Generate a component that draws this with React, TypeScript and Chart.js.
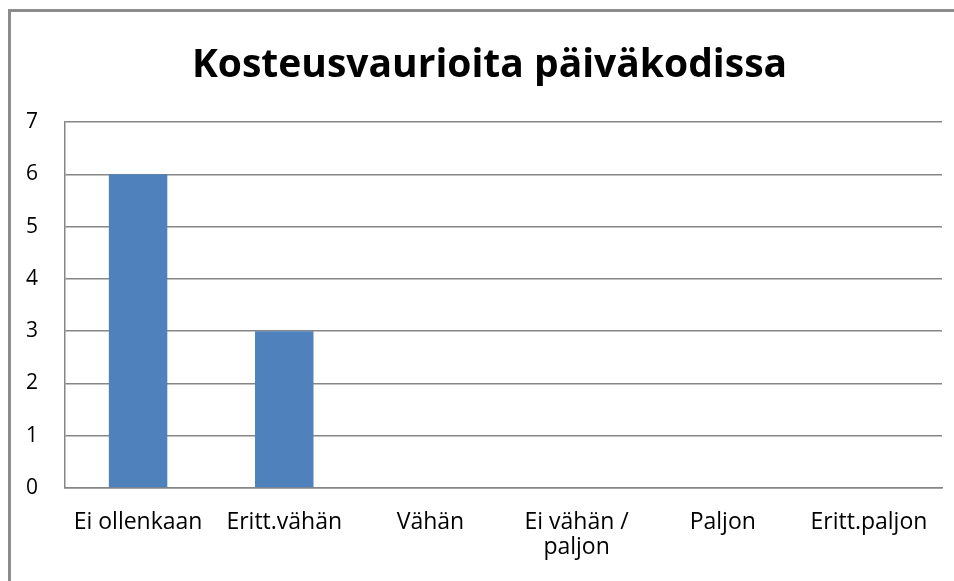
import React, { useEffect, useRef } from "react";
import { Chart, registerables } from "chart.js";

Chart.register(...registerables);

const categories: (string | string[])[] = [
  "Ei ollenkaan",
  "Eritt.vähän",
  "Vähän",
  ["Ei vähän /", "paljon"],
  "Paljon",
  "Eritt.paljon",
];
const values: number[] = [6, 3, 0, 0, 0, 0];
const yTicks: number[] = [0, 1, 2, 3, 4, 5, 6, 7];
const titleText = "Kosteusvaurioita päiväkodissa";

const titlePlugin = {
  id: "centeredTitle",
  afterDraw(chart: any) {
    const ctx = chart.ctx;
    ctx.save();
    ctx.font = "bold 39px 'Open Sans'";
    ctx.fillStyle = "#000";
    ctx.textAlign = "center";
    ctx.textBaseline = "alphabetic";
    ctx.fillText(titleText, 478.5, 65);
    ctx.restore();
  },
};

export default function App() {
  const ref = useRef<HTMLCanvasElement>(null);
  useEffect(() => {
    if (!ref.current) return;
    const chart = new Chart(ref.current, {
      type: "bar",
      data: {
        labels: categories,
        datasets: [
          {
            data: values,
            backgroundColor: "#4F81BD",
            barPercentage: 0.4,
            categoryPercentage: 1,
          },
        ],
      },
      plugins: [titlePlugin],
      options: {
        animation: false,
        responsive: false,
        layout: { padding: { left: 0, right: 12, top: 110, bottom: 0 } },
        plugins: {
          legend: { display: false },
          tooltip: { enabled: false },
          title: { display: false },
        },
        scales: {
          x: {
            grid: { display: false, drawTicks: false },
            border: { display: true, color: "#868686", width: 1.5 },
            ticks: {
              color: "#000",
              font: { family: "'Open Sans'", size: 23, lineHeight: 1.1 },
              padding: 22,
              maxRotation: 0,
              autoSkip: false,
            },
            afterFit: (s: any) => {
              s.height = 93;
            },
          },
          y: {
            min: 0,
            max: 7,
            afterBuildTicks: (s: any) => {
              s.ticks = yTicks.map((v) => ({ value: v }));
            },
            grid: { color: "#868686", lineWidth: 1.5, drawTicks: false },
            border: { display: true, color: "#868686", width: 1.5 },
            ticks: {
              color: "#000",
              font: { family: "'Open Sans'", size: 21 },
              padding: 27,
            },
            afterFit: (s: any) => {
              s.width = 54;
            },
          },
        },
      },
    });
    return () => chart.destroy();
  }, []);
  return (
    <div
      style={{
        position: "fixed",
        left: 8,
        top: 9,
        width: 946,
        height: 572,
        boxSizing: "border-box",
        borderTop: "3px solid #8c8c8c",
        borderLeft: "3px solid #8c8c8c",
        background: "#fff",
        overflow: "hidden",
      }}
    >
      <canvas ref={ref} width={943} height={569} style={{ display: "block" }} />
    </div>
  );
}
